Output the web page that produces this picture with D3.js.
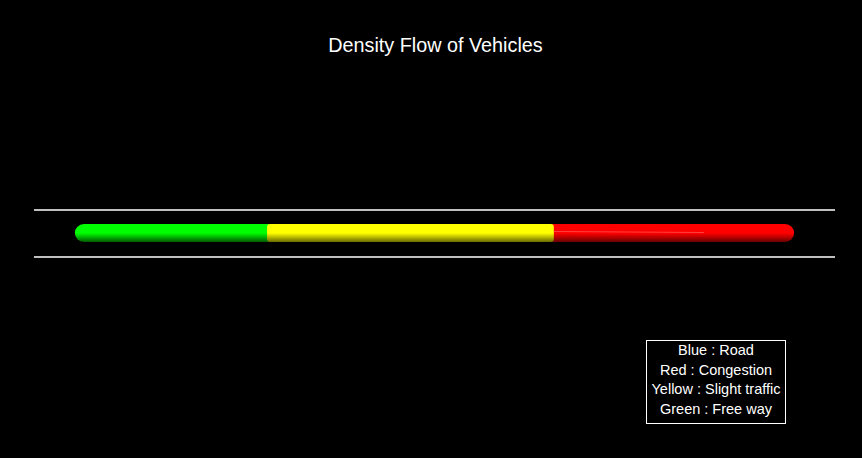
<!DOCTYPE html>
<html><head><meta charset="utf-8">
<script src="https://cdn.jsdelivr.net/npm/d3@7"></script>
<style>html,body{margin:0;padding:0;background:#000;}svg{display:block;}</style>
</head><body>
<script>
const title = "Density Flow of Vehicles";
const roadExtent = [0, 100];
const segStart = [5.1, 29.1, 64.9];
const segEnd = [29.1, 64.9, 94.9];
const segNames = ["green", "yellow", "red"];
const segTop = ["#00ff00", "#ffff00", "#ff0000"];
const segBottom = ["#005a00", "#6a6a00", "#6a0000"];
const legendLines = ["Blue : Road", "Red : Congestion", "Yellow : Slight traffic", "Green : Free way"];

const W = 862, H = 458;
const svg = d3.select("body").append("svg").attr("width", W).attr("height", H).style("background", "#000");
const x = d3.scaleLinear().domain(roadExtent).range([34, 835]);

svg.append("text").attr("x", 435.5).attr("y", 52).attr("text-anchor", "middle")
  .attr("fill", "#fff").attr("font-family", "Liberation Sans, Arial, sans-serif").attr("font-size", 19.8)
  .text(title);

[210, 257].forEach(y => {
  svg.append("line").attr("x1", x(roadExtent[0])).attr("x2", x(roadExtent[1]))
    .attr("y1", y).attr("y2", y).attr("stroke", "#fff").attr("stroke-width", 1.5);
});

const defs = svg.append("defs");
segNames.forEach((n, i) => {
  const g = defs.append("linearGradient").attr("id", "g" + n).attr("x1", 0).attr("y1", 0).attr("x2", 0).attr("y2", 1);
  g.append("stop").attr("offset", "0%").attr("stop-color", segTop[i]);
  g.append("stop").attr("offset", "50%").attr("stop-color", segTop[i]);
  g.append("stop").attr("offset", "100%").attr("stop-color", segBottom[i]);
});

const barY = 224, barH = 18;
const order = [0, 2, 1];
order.forEach(i => {
  const x0 = x(segStart[i]), x1 = x(segEnd[i]);
  const rx = i === 1 ? 3 : 9;
  const left = i === 2 ? x0 - 10 : x0;
  const right = i === 0 ? x1 + 10 : x1;
  svg.append("rect").attr("x", left).attr("y", barY).attr("width", right - left).attr("height", barH)
    .attr("rx", rx).attr("ry", rx).attr("fill", "url(#g" + segNames[i] + ")");
});
svg.append("line").attr("x1", x(segStart[2])).attr("x2", x(segStart[2]) + 150)
  .attr("y1", 231.5).attr("y2", 232.5).attr("stroke", "#ff8080").attr("stroke-width", 1).attr("opacity", 0.5);

svg.append("rect").attr("x", 646.5).attr("y", 340.5).attr("width", 139).attr("height", 83)
  .attr("fill", "#000").attr("stroke", "#fff").attr("stroke-width", 1);
legendLines.forEach((t, i) => {
  svg.append("text").attr("x", 716).attr("y", 355 + i * 19.5).attr("text-anchor", "middle")
    .attr("fill", "#fff").attr("font-family", "Liberation Sans, Arial, sans-serif").attr("font-size", 14.5)
    .text(t);
});
</script>
</body></html>
